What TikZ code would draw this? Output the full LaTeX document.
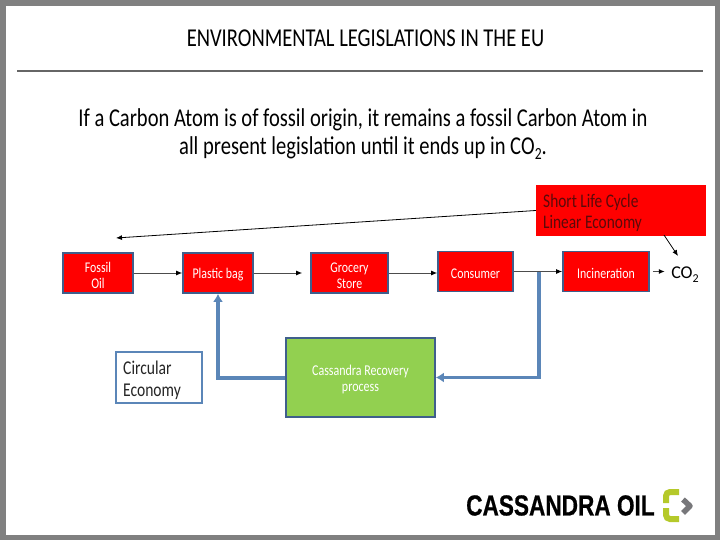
\documentclass[tikz,border=0pt]{standalone}
\usepackage{fontspec}
\setmainfont[FakeStretch=0.8]{Carlito}
\newfontfamily\logofont[FakeStretch=0.78,FakeBold=0.6]{Liberation Sans Bold}
\newfontfamily\plainfont{Carlito}
\newcommand{\lowtwo}[1]{\raisebox{-0.22em}{\fontsize{#1}{#1}\selectfont 2}}
\newcommand{\tp}{\rule{0pt}{14.5pt}}
\usetikzlibrary{arrows.meta}
\definecolor{boxedge}{HTML}{3F5F8C}
\definecolor{flowblue}{HTML}{5B86B8}
\definecolor{leaf}{HTML}{92D050}
\definecolor{logolime}{HTML}{B5C92A}
\definecolor{logogrey}{HTML}{77777A}
\definecolor{frameg}{HTML}{808080}
\definecolor{darkred}{HTML}{5A0A0A}
\tikzset{
  redbox/.style={draw=boxedge,line width=1.6pt,fill=red,text=white,align=center,font=\fontsize{14.8}{16}\selectfont,inner sep=0pt},
  flow/.style={draw=black!70,line width=1pt,-{Latex[length=6pt,width=5pt,black]}},
  thin flow/.style={draw=black,line width=0.8pt,-{Latex[length=6pt,width=5pt]}},
  back/.style={draw=flowblue,line width=3.2pt,-{Latex[length=8pt,width=10pt]}},
}
\begin{document}
\begin{tikzpicture}[x=1pt,y=-1pt]
\useasboundingbox (0,0) rectangle (720,540);
\fill[frameg] (0,0) rectangle (720,540);
\fill[white] (6,6) rectangle (715,535);
\node[font=\fontsize{25.7}{28}\selectfont] (title) at (365.5,38) {ENVIRONMENTAL LEGISLATIONS IN THE EU};
\coordinate (ruleL) at (17,71);
\coordinate (ruleR) at (703,71);
\draw[black!60,line width=1.4pt] (ruleL) -- (ruleR);
\node[align=center,font=\fontsize{25.7}{28}\selectfont] (lead) at (363,134) {If a Carbon Atom is of fossil origin, it remains a fossil Carbon Atom in\\all present legislation until it ends up in CO\lowtwo{17}.};

\node[redbox,minimum width=70pt,minimum height=40pt] (fossil) at (98,273) {\tp Fossil\\Oil};
\node[redbox,minimum width=70pt,minimum height=40pt] (bag) at (218,273) {\tp Plastic bag};
\node[redbox,minimum width=77pt,minimum height=40pt] (grocery) at (349.5,273) {\tp Grocery\\Store};
\node[redbox,minimum width=75pt,minimum height=40pt] (consumer) at (475.5,271.5) {\tp Consumer};
\node[redbox,minimum width=86pt,minimum height=40pt] (incin) at (606,271.5) {\tp Incineration};
\node[draw=boxedge,line width=1.6pt,fill=leaf,text=white,align=center,minimum width=149pt,minimum height=79pt,inner sep=0pt,font=\fontsize{15}{16}\selectfont] (green) at (360.5,377.5) {\tp Cassandra Recovery\\process};
\node[fill=red,minimum width=170pt,minimum height=51pt,inner sep=0pt] (short) at (621,210.5) {};
\node[anchor=west,align=left,inner sep=0pt,text=darkred,font=\fontsize{19.2}{21}\selectfont] (shorttxt) at (543,213) {Short Life Cycle\\Linear Economy};
\node[draw=flowblue,line width=1.4pt,fill=white,minimum width=86pt,minimum height=51pt,inner sep=0pt] (circ) at (159,377.5) {};
\node[anchor=west,align=left,inner sep=0pt,font=\fontsize{19.5}{22}\selectfont,text=black!85] (circtxt) at (123,380) {Circular\\Economy};
\node (co2) at (685,275) {\plainfont\fontsize{18}{20}\selectfont CO\lowtwo{12}};

\coordinate (oilmark) at (116,238);
\coordinate (junction) at (539,271.5);
\coordinate (bagTurn) at (218,378);
\coordinate (greenTurn) at (539,377.5);
\coordinate (shortOut) at (664,235);
\coordinate (co2In) at (678,256);

\draw[flow] (fossil.east) -- (bag.west);
\draw[flow,shorten >=8pt] (bag.east) -- (grocery.west |- bag.east);
\draw[flow] (grocery.east) -- (consumer.west |- grocery.east);
\draw[flow] (consumer.east) -- (incin.west);
\draw[flow,shorten <=3pt,shorten >=3pt] (incin.east) -- (co2.west |- incin.east);
\draw[thin flow] (short.west) -- (oilmark);
\draw[thin flow] (shortOut) -- (co2In);
\draw[back] (junction) -- (greenTurn) -- (green.east);
\draw[back] (green.west |- bagTurn) -- (bagTurn) -- (bag.south);

\node[anchor=west,inner sep=0pt] (logo) at (466,505.5) {\logofont\fontsize{29}{30}\selectfont CASSANDRA OIL};
\draw[logolime,line width=6pt,rounded corners=4pt] (679,492) -- (666,492) -- (666,503);
\draw[logolime,line width=6pt,rounded corners=4pt] (666,508) -- (666,519) -- (679,519);
\draw[logogrey,line width=5.5pt,line join=round] (683,499.5) -- (690,506) -- (683,513);
\end{tikzpicture}
\end{document}
